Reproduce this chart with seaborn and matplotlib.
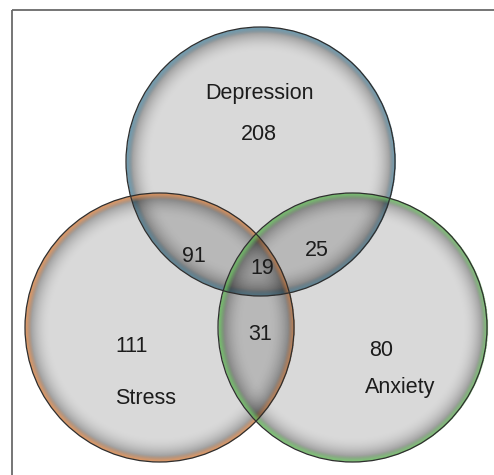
import numpy as np
import matplotlib
matplotlib.use("Agg")
import matplotlib.pyplot as plt
from matplotlib.patches import Circle, Rectangle
from matplotlib.colors import to_rgb
import seaborn as sns

# ==========================
# Data
# ==========================
set_names = ["Depression", "Stress", "Anxiety"]
only_counts = [208, 111, 80]            # Depression only, Stress only, Anxiety only
pair_names = ["Depression & Stress", "Depression & Anxiety", "Stress & Anxiety"]
pair_counts = [91, 25, 31]
all_three = 19

# ==========================
# Layout (pixel space)
# ==========================
W, H = 494, 475
centers = [(260.5, 161.5), (159.5, 327.5), (352.5, 327.5)]
radius = 134.5
edge_colors = ["#4f8198", "#cd7d43", "#5fae55"]

name_pos = [(259, 94), (146, 398), (400, 387)]
only_pos = [(259, 134), (132, 347), (381, 350)]
pair_pos = [(194, 256), (317, 251), (260, 334)]
all_pos = (262, 268)

sns.set_theme(style="white")
plt.rcParams["font.family"] = ["Liberation Sans", "DejaVu Sans"]

fig = plt.figure(figsize=(W / 100, H / 100), dpi=100)
ax = fig.add_axes([0, 0, 1, 1])
ax.set_xlim(0, W)
ax.set_ylim(H, 0)
ax.axis("off")

# pixel grid (supersampled) for shaded circles
ss = 2
xs = (np.arange(W * ss) + 0.5) / ss
ys = (np.arange(H * ss) + 0.5) / ss
X, Y = np.meshgrid(xs, ys)

for (cx, cy), col in zip(centers, edge_colors):
    dist = np.hypot(X - cx, Y - cy)
    t = radius - dist                        # distance in from the rim
    inside = t >= 0
    s = np.clip(1 - (t - 4) / 22, 0, 1)      # grey shading toward rim
    a_shade = 0.15 + 0.27 * s ** 2
    b = np.clip(1 - (t - 1.5) / 5, 0, 1)     # coloured band at rim
    a_band = 0.8 * b
    alpha = a_shade * (1 - b) + a_band
    ec = np.array(to_rgb(col))
    rgb = (a_band[..., None] * ec[None, None, :]) / np.maximum(alpha, 1e-6)[..., None]
    rgba = np.zeros((H * ss, W * ss, 4))
    rgba[..., :3] = rgb
    rgba[..., 3] = np.where(inside, alpha, 0)
    ax.imshow(rgba, extent=(0, W, H, 0), interpolation="antialiased", zorder=1)
    ax.add_patch(Circle((cx, cy), radius, fill=False, edgecolor="#2e2e2e",
                        linewidth=0.9, zorder=2))

# frame (only top and left edges fall inside the picture)
ax.add_patch(Rectangle((12, 10), W + 50, H + 50, fill=False, edgecolor="#6a6a6a",
                       linewidth=1.3, zorder=3, clip_on=True))

fs = 15.5
txt = dict(ha="center", va="center", fontsize=fs, color="#1c1c1c", zorder=4)
for name, (x, y) in zip(set_names, name_pos):
    ax.text(x, y, name, **txt)
for n, (x, y) in zip(only_counts, only_pos):
    ax.text(x, y, str(n), **txt)
for n, (x, y) in zip(pair_counts, pair_pos):
    ax.text(x, y, str(n), **txt)
ax.text(all_pos[0], all_pos[1], str(all_three), **txt)

ax.set_xlim(0, W)
ax.set_ylim(H, 0)

plt.savefig("out.png", dpi=100)
